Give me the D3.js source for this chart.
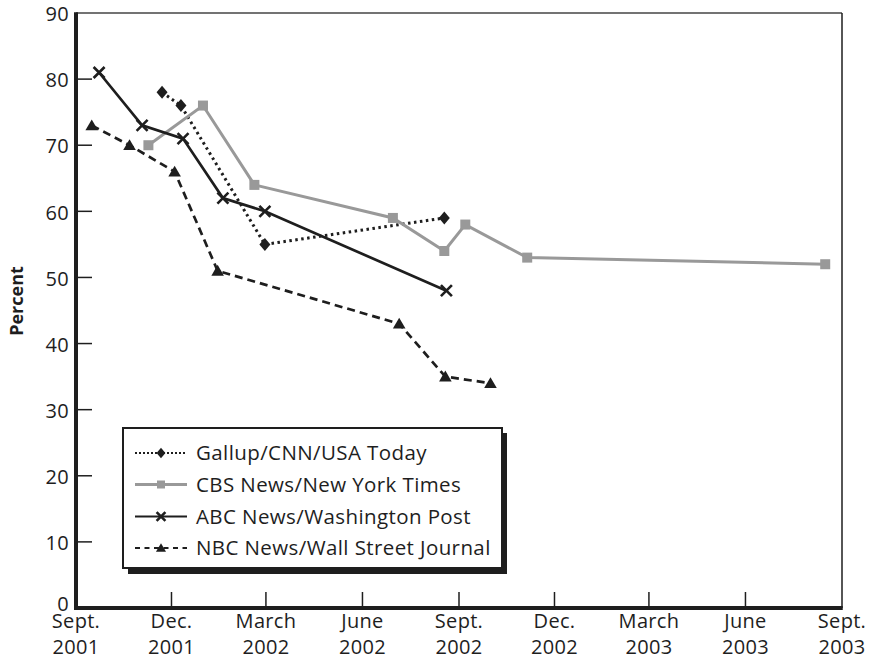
<!DOCTYPE html>
<html><head><meta charset="utf-8">
<script src="https://cdn.jsdelivr.net/npm/d3@7"></script>
<style>body{margin:0;background:#fff}svg{display:block}text{font-family:"Open Sans",sans-serif;fill:#1e1e1e}</style>
</head><body><svg id="c" width="873" height="659"></svg>
<script>
// ---- data ----
const gallupDates = ["2001-11-22","2001-12-10","2002-02-28","2002-08-18"];
const gallupValues = [78,76,55,59];
const cbsDates = ["2001-11-09","2001-12-31","2002-02-18","2002-06-30","2002-08-18","2002-09-07","2002-11-05","2003-08-16"];
const cbsValues = [70,76,64,59,54,58,53,52];
const abcDates = ["2001-09-23","2001-11-03","2001-12-12","2002-01-19","2002-02-28","2002-08-20"];
const abcValues = [81,73,71,62,60,48];
const nbcDates = ["2001-09-16","2001-10-22","2001-12-04","2002-01-14","2002-07-06","2002-08-19","2002-10-01"];
const nbcValues = [73,70,66,51,43,35,34];
const seriesNames = ["Gallup/CNN/USA Today","CBS News/New York Times","ABC News/Washington Post","NBC News/Wall Street Journal"];
const xTickDates = ["2001-09-01","2001-12-01","2002-03-01","2002-06-01","2002-09-01","2002-12-01","2003-03-01","2003-06-01","2003-09-01"];
const xTickLine1 = ["Sept.","Dec.","March","June","Sept.","Dec.","March","June","Sept."];
const xTickLine2 = ["2001","2001","2002","2002","2002","2002","2003","2003","2003"];
const yTicks = [0,10,20,30,40,50,60,70,80,90];
const yLabel = "Percent";

// ---- setup ----
const parse = d3.timeParse("%Y-%m-%d");
const svg = d3.select("#c");
const L = 76, R = 842, T = 13, B = 608;
const x = d3.scaleTime().domain([parse(xTickDates[0]), parse(xTickDates[xTickDates.length-1])]).range([L, R]);
const y = d3.scaleLinear().domain([0, 90]).range([B, T]);

const mk = (dates, vals) => dates.map((d, i) => ({x: parse(d), v: vals[i]}));
const series = [
  {name: seriesNames[0], data: mk(gallupDates, gallupValues), color: "#1e1e1e", width: 3, dash: "2.5,3.5", marker: "diamond"},
  {name: seriesNames[1], data: mk(cbsDates, cbsValues), color: "#999", width: 3, dash: null, marker: "square"},
  {name: seriesNames[2], data: mk(abcDates, abcValues), color: "#1e1e1e", width: 2.7, dash: null, marker: "x"},
  {name: seriesNames[3], data: mk(nbcDates, nbcValues), color: "#1e1e1e", width: 2.7, dash: "8,5", marker: "triangle"}
];

function drawMarker(g, type, cx, cy, color, s) {
  s = s || 1;
  if (type === "diamond") {
    g.append("path").attr("d", `M${cx},${cy-6.5*s}L${cx+5.5*s},${cy}L${cx},${cy+6.5*s}L${cx-5.5*s},${cy}Z`).attr("fill", color);
  } else if (type === "square") {
    g.append("rect").attr("x", cx-5*s).attr("y", cy-5*s).attr("width", 10*s).attr("height", 10*s).attr("fill", color);
  } else if (type === "x") {
    const h = 5.5*s;
    g.append("path").attr("d", `M${cx-h},${cy-h}L${cx+h},${cy+h}M${cx+h},${cy-h}L${cx-h},${cy+h}`).attr("stroke", color).attr("stroke-width", 2.6).attr("fill", "none");
  } else if (type === "triangle") {
    g.append("path").attr("d", `M${cx},${cy-6*s}L${cx+6.3*s},${cy+4.8*s}L${cx-6.3*s},${cy+4.8*s}Z`).attr("fill", color);
  }
}

// frame: top + right thin lines
svg.append("line").attr("x1", L).attr("x2", R).attr("y1", T).attr("y2", T).attr("stroke", "#444").attr("stroke-width", 1.5);
svg.append("line").attr("x1", R).attr("x2", R).attr("y1", T).attr("y2", B).attr("stroke", "#1e1e1e").attr("stroke-width", 1.5);

const fs = 20, ls = "0.3px";
// y ticks
yTicks.forEach(t => {
  if (t > 0 && t < 90) {
    svg.append("line").attr("x1", L).attr("x2", L+16).attr("y1", y(t)).attr("y2", y(t)).attr("stroke", "#1e1e1e").attr("stroke-width", 1.5);
  }
  svg.append("text").attr("x", 69).attr("y", t === 0 ? y(t) - 4 : y(t) + 1).attr("dy", "0.36em").attr("text-anchor", "end")
    .attr("font-size", fs).attr("letter-spacing", ls).text(t);
});
// x ticks
xTickDates.forEach((d, i) => {
  const xx = x(parse(d));
  if (i > 0 && i < xTickDates.length-1) {
    svg.append("line").attr("x1", xx).attr("x2", xx).attr("y1", B).attr("y2", B-16).attr("stroke", "#1e1e1e").attr("stroke-width", 1.5);
  }
  svg.append("text").attr("x", xx).attr("y", 628).attr("text-anchor", "middle").attr("font-size", fs).attr("letter-spacing", ls).text(xTickLine1[i]);
  svg.append("text").attr("x", xx).attr("y", 654).attr("text-anchor", "middle").attr("font-size", fs).attr("letter-spacing", ls).text(xTickLine2[i]);
});

// y label
svg.append("text").attr("transform", "translate(23,301) rotate(-90)").attr("text-anchor", "middle").attr("font-size", 18).attr("font-weight", "bold").text(yLabel);

// series
const line = d3.line().x(d => x(d.x)).y(d => y(d.v));
series.forEach(s => {
  const g = svg.append("g");
  g.append("path").attr("d", line(s.data)).attr("fill", "none").attr("stroke", s.color).attr("stroke-width", s.width)
    .attr("stroke-dasharray", s.dash).attr("stroke-linejoin", "miter");
  s.data.forEach(d => drawMarker(g, s.marker, x(d.x), y(d.v), s.color));
});

// axes (thick left + bottom)
svg.append("line").attr("x1", L).attr("x2", L).attr("y1", T-0.75).attr("y2", B+2).attr("stroke", "#1e1e1e").attr("stroke-width", 4);
svg.append("line").attr("x1", L-2).attr("x2", R+0.75).attr("y1", B).attr("y2", B).attr("stroke", "#1e1e1e").attr("stroke-width", 4);

// legend
const lg = svg.append("g");
lg.append("rect").attr("x", 128).attr("y", 433).attr("width", 379).attr("height", 141).attr("fill", "#1e1e1e");
lg.append("rect").attr("x", 123).attr("y", 428).attr("width", 379).attr("height", 140).attr("fill", "#fff").attr("stroke", "#1e1e1e").attr("stroke-width", 2);
const rowY = [453, 484.5, 516.5, 548];
series.forEach((s, i) => {
  const cy = rowY[i];
  lg.append("line").attr("x1", 135).attr("x2", 187).attr("y1", cy).attr("y2", cy).attr("stroke", s.color)
    .attr("stroke-width", s.marker === "square" ? 3 : 2.2).attr("stroke-dasharray", s.marker === "diamond" ? "2,2" : (s.marker === "triangle" ? "5,4.5" : null));
  drawMarker(lg, s.marker, 161, cy, s.color, 0.8);
  lg.append("text").attr("x", 196).attr("y", cy).attr("dy", "0.36em").attr("font-size", 20.5).attr("letter-spacing", "0.4px").text(s.name);
});
</script></body></html>
